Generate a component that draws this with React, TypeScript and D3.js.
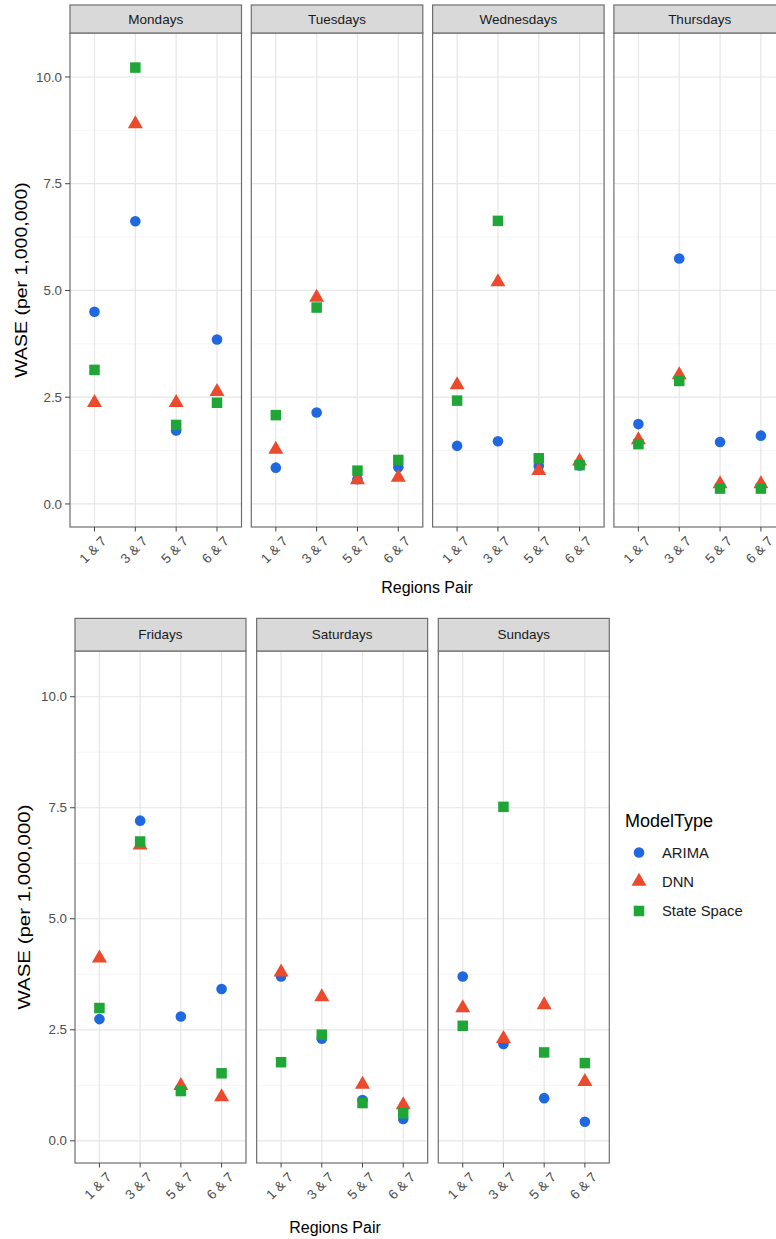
import React from "react";
import * as d3 from "d3";

const categories = ["1 & 7", "3 & 7", "5 & 7", "6 & 7"];
const days = ["Mondays", "Tuesdays", "Wednesdays", "Thursdays", "Fridays", "Saturdays", "Sundays"];
const models = ["ARIMA", "DNN", "State Space"];
const yTicks = [0, 2.5, 5, 7.5, 10];
const yMinor = [1.25, 3.75, 6.25, 8.75];

// values per day (rows) and region pair (columns)
const arimaValues = [
  [4.5, 6.62, 1.72, 3.85],
  [0.85, 2.14, 0.58, 0.86],
  [1.36, 1.47, 0.89, 0.9],
  [1.87, 5.75, 1.45, 1.6],
  [2.74, 7.21, 2.8, 3.42],
  [3.7, 2.3, 0.92, 0.49],
  [3.7, 2.18, 0.96, 0.43],
];
const dnnValues = [
  [2.37, 8.9, 2.37, 2.63],
  [1.28, 4.84, 0.56, 0.62],
  [2.79, 5.2, 0.78, 1.0],
  [1.5, 3.02, 0.47, 0.47],
  [4.11, 6.66, 1.24, 0.99],
  [3.8, 3.24, 1.27, 0.81],
  [2.99, 2.3, 3.06, 1.33],
];
const stateSpaceValues = [
  [3.14, 10.22, 1.85, 2.37],
  [2.08, 4.6, 0.78, 1.03],
  [2.42, 6.63, 1.07, 0.91],
  [1.4, 2.88, 0.36, 0.36],
  [2.99, 6.74, 1.12, 1.52],
  [1.77, 2.39, 0.85, 0.62],
  [2.59, 7.52, 1.99, 1.75],
];

const modelValues = [arimaValues, dnnValues, stateSpaceValues];
const colors = ["#1F68DF", "#EC4A2C", "#1FA637"];

const FONT = "'Liberation Sans', Arial, Helvetica, sans-serif";

type Row = {
  days: number[];
  left0: number;
  step: number;
  width: number;
  stripTop: number;
  plotTop: number;
  plotBottom: number;
  domain: [number, number];
  yTitleX: number;
  yTitleScale: number;
  xTitleX: number;
  xTitleY: number;
};

const rows: Row[] = [
  {
    days: [0, 1, 2, 3],
    left0: 70,
    step: 181.3,
    width: 171.5,
    stripTop: 5,
    plotTop: 33,
    plotBottom: 527,
    domain: [-0.54, 11.03],
    yTitleX: 21,
    yTitleScale: 1.22,
    xTitleX: 427,
    xTitleY: 593,
  },
  {
    days: [4, 5, 6],
    left0: 75,
    step: 181.65,
    width: 171,
    stripTop: 618.4,
    plotTop: 651,
    plotBottom: 1163,
    domain: [-0.5, 11.03],
    yTitleX: 24,
    yTitleScale: 1.28,
    xTitleX: 335,
    xTitleY: 1233,
  },
];

function Marker({ model, x, y, size = 1 }: { model: number; x: number; y: number; size?: number }) {
  const c = colors[model];
  if (model === 0) return <circle cx={x} cy={y} r={5.3 * size} fill={c} />;
  if (model === 1) {
    const w = 15 * size;
    const h = 13 * size;
    const p = [
      [x, y - (2 * h) / 3],
      [x + w / 2, y + h / 3],
      [x - w / 2, y + h / 3],
    ];
    return <polygon points={p.map((q) => q.join(",")).join(" ")} fill={c} />;
  }
  const s = 10.5 * size;
  return <rect x={x - s / 2} y={y - s / 2} width={s} height={s} fill={c} />;
}

function RowView({ row }: { row: Row }) {
  const y = d3.scaleLinear().domain(row.domain).range([row.plotBottom, row.plotTop]);
  const midY = (row.plotTop + row.plotBottom) / 2;
  return (
    <g>
      {row.days.map((di, i) => {
        const left = row.left0 + i * row.step;
        const x = d3.scalePoint<string>().domain(categories).range([left, left + row.width]).padding(0.6);
        return (
          <g key={di}>
            <rect x={left} y={row.plotTop} width={row.width} height={row.plotBottom - row.plotTop} fill="#fff" />
            {yMinor.map((t) => (
              <line key={"m" + t} x1={left} x2={left + row.width} y1={y(t)} y2={y(t)} stroke="#f1f1f1" strokeWidth={0.7} />
            ))}
            {yTicks.map((t) => (
              <line key={"g" + t} x1={left} x2={left + row.width} y1={y(t)} y2={y(t)} stroke="#e6e6e6" strokeWidth={1.2} />
            ))}
            {categories.map((c) => (
              <line key={"v" + c} x1={x(c)} x2={x(c)} y1={row.plotTop} y2={row.plotBottom} stroke="#e6e6e6" strokeWidth={1.2} />
            ))}
            {modelValues.map((vals, m) =>
              categories.map((c, ci) => (
                <Marker key={m + "-" + ci} model={m} x={x(c)!} y={y(vals[di][ci])} />
              ))
            )}
            <rect x={left} y={row.plotTop} width={row.width} height={row.plotBottom - row.plotTop} fill="none" stroke="#6e6e6e" strokeWidth={1.2} />
            <rect x={left} y={row.stripTop} width={row.width} height={row.plotTop - row.stripTop} fill="#d9d9d9" stroke="#6e6e6e" strokeWidth={1.2} />
            <text x={left + row.width / 2} y={(row.stripTop + row.plotTop) / 2} dy="0.35em" textAnchor="middle" fontSize={13.5} fill="#1a1a1a" fontFamily={FONT}>
              {days[di]}
            </text>
            {categories.map((c) => (
              <g key={"t" + c}>
                <line x1={x(c)} x2={x(c)} y1={row.plotBottom} y2={row.plotBottom + 4.5} stroke="#444" strokeWidth={1} />
                <text
                  transform={`translate(${x(c)! + 6},${row.plotBottom + 8}) rotate(-45)`}
                  dy="0.72em"
                  textAnchor="end"
                  fontSize={13.5}
                  fill="#4d4d4d"
                  fontFamily={FONT}
                >
                  {c}
                </text>
              </g>
            ))}
          </g>
        );
      })}
      {yTicks.map((t) => (
        <g key={"yt" + t}>
          <line x1={row.left0 - 5} x2={row.left0} y1={y(t)} y2={y(t)} stroke="#444" strokeWidth={1} />
          <text x={row.left0 - 8} y={y(t)} dy="0.35em" textAnchor="end" fontSize={13.3} fill="#4d4d4d" fontFamily={FONT}>
            {t.toFixed(1)}
          </text>
        </g>
      ))}
      <text
        transform={`translate(${row.yTitleX},${midY}) rotate(-90) scale(${row.yTitleScale},1)`}
        dy="0.35em"
        textAnchor="middle"
        fontSize={16}
        fill="#000"
        fontFamily={FONT}
      >
        WASE (per 1,000,000)
      </text>
      <text x={row.xTitleX} y={row.xTitleY} textAnchor="middle" fontSize={16} fill="#000" fontFamily={FONT}>
        Regions Pair
      </text>
    </g>
  );
}

export default function App() {
  const legendX = 639;
  const legendYs = [852.5, 881.5, 911];
  return (
    <svg
      width={776}
      height={1239}
      style={{ position: "absolute", left: 0, top: 0, background: "#fff" }}
      xmlns="http://www.w3.org/2000/svg"
    >
      <rect x={0} y={0} width={776} height={1239} fill="#fff" />
      {rows.map((r, i) => (
        <RowView key={i} row={r} />
      ))}
      <text x={625} y={827} fontSize={18} fill="#000" fontFamily={FONT}>
        ModelType
      </text>
      {models.map((m, i) => (
        <g key={m}>
          <Marker model={i} x={legendX} y={legendYs[i]} />
          <text x={662} y={legendYs[i]} dy="0.36em" fontSize={14.8} fill="#1a1a1a" fontFamily={FONT}>
            {m}
          </text>
        </g>
      ))}
    </svg>
  );
}
